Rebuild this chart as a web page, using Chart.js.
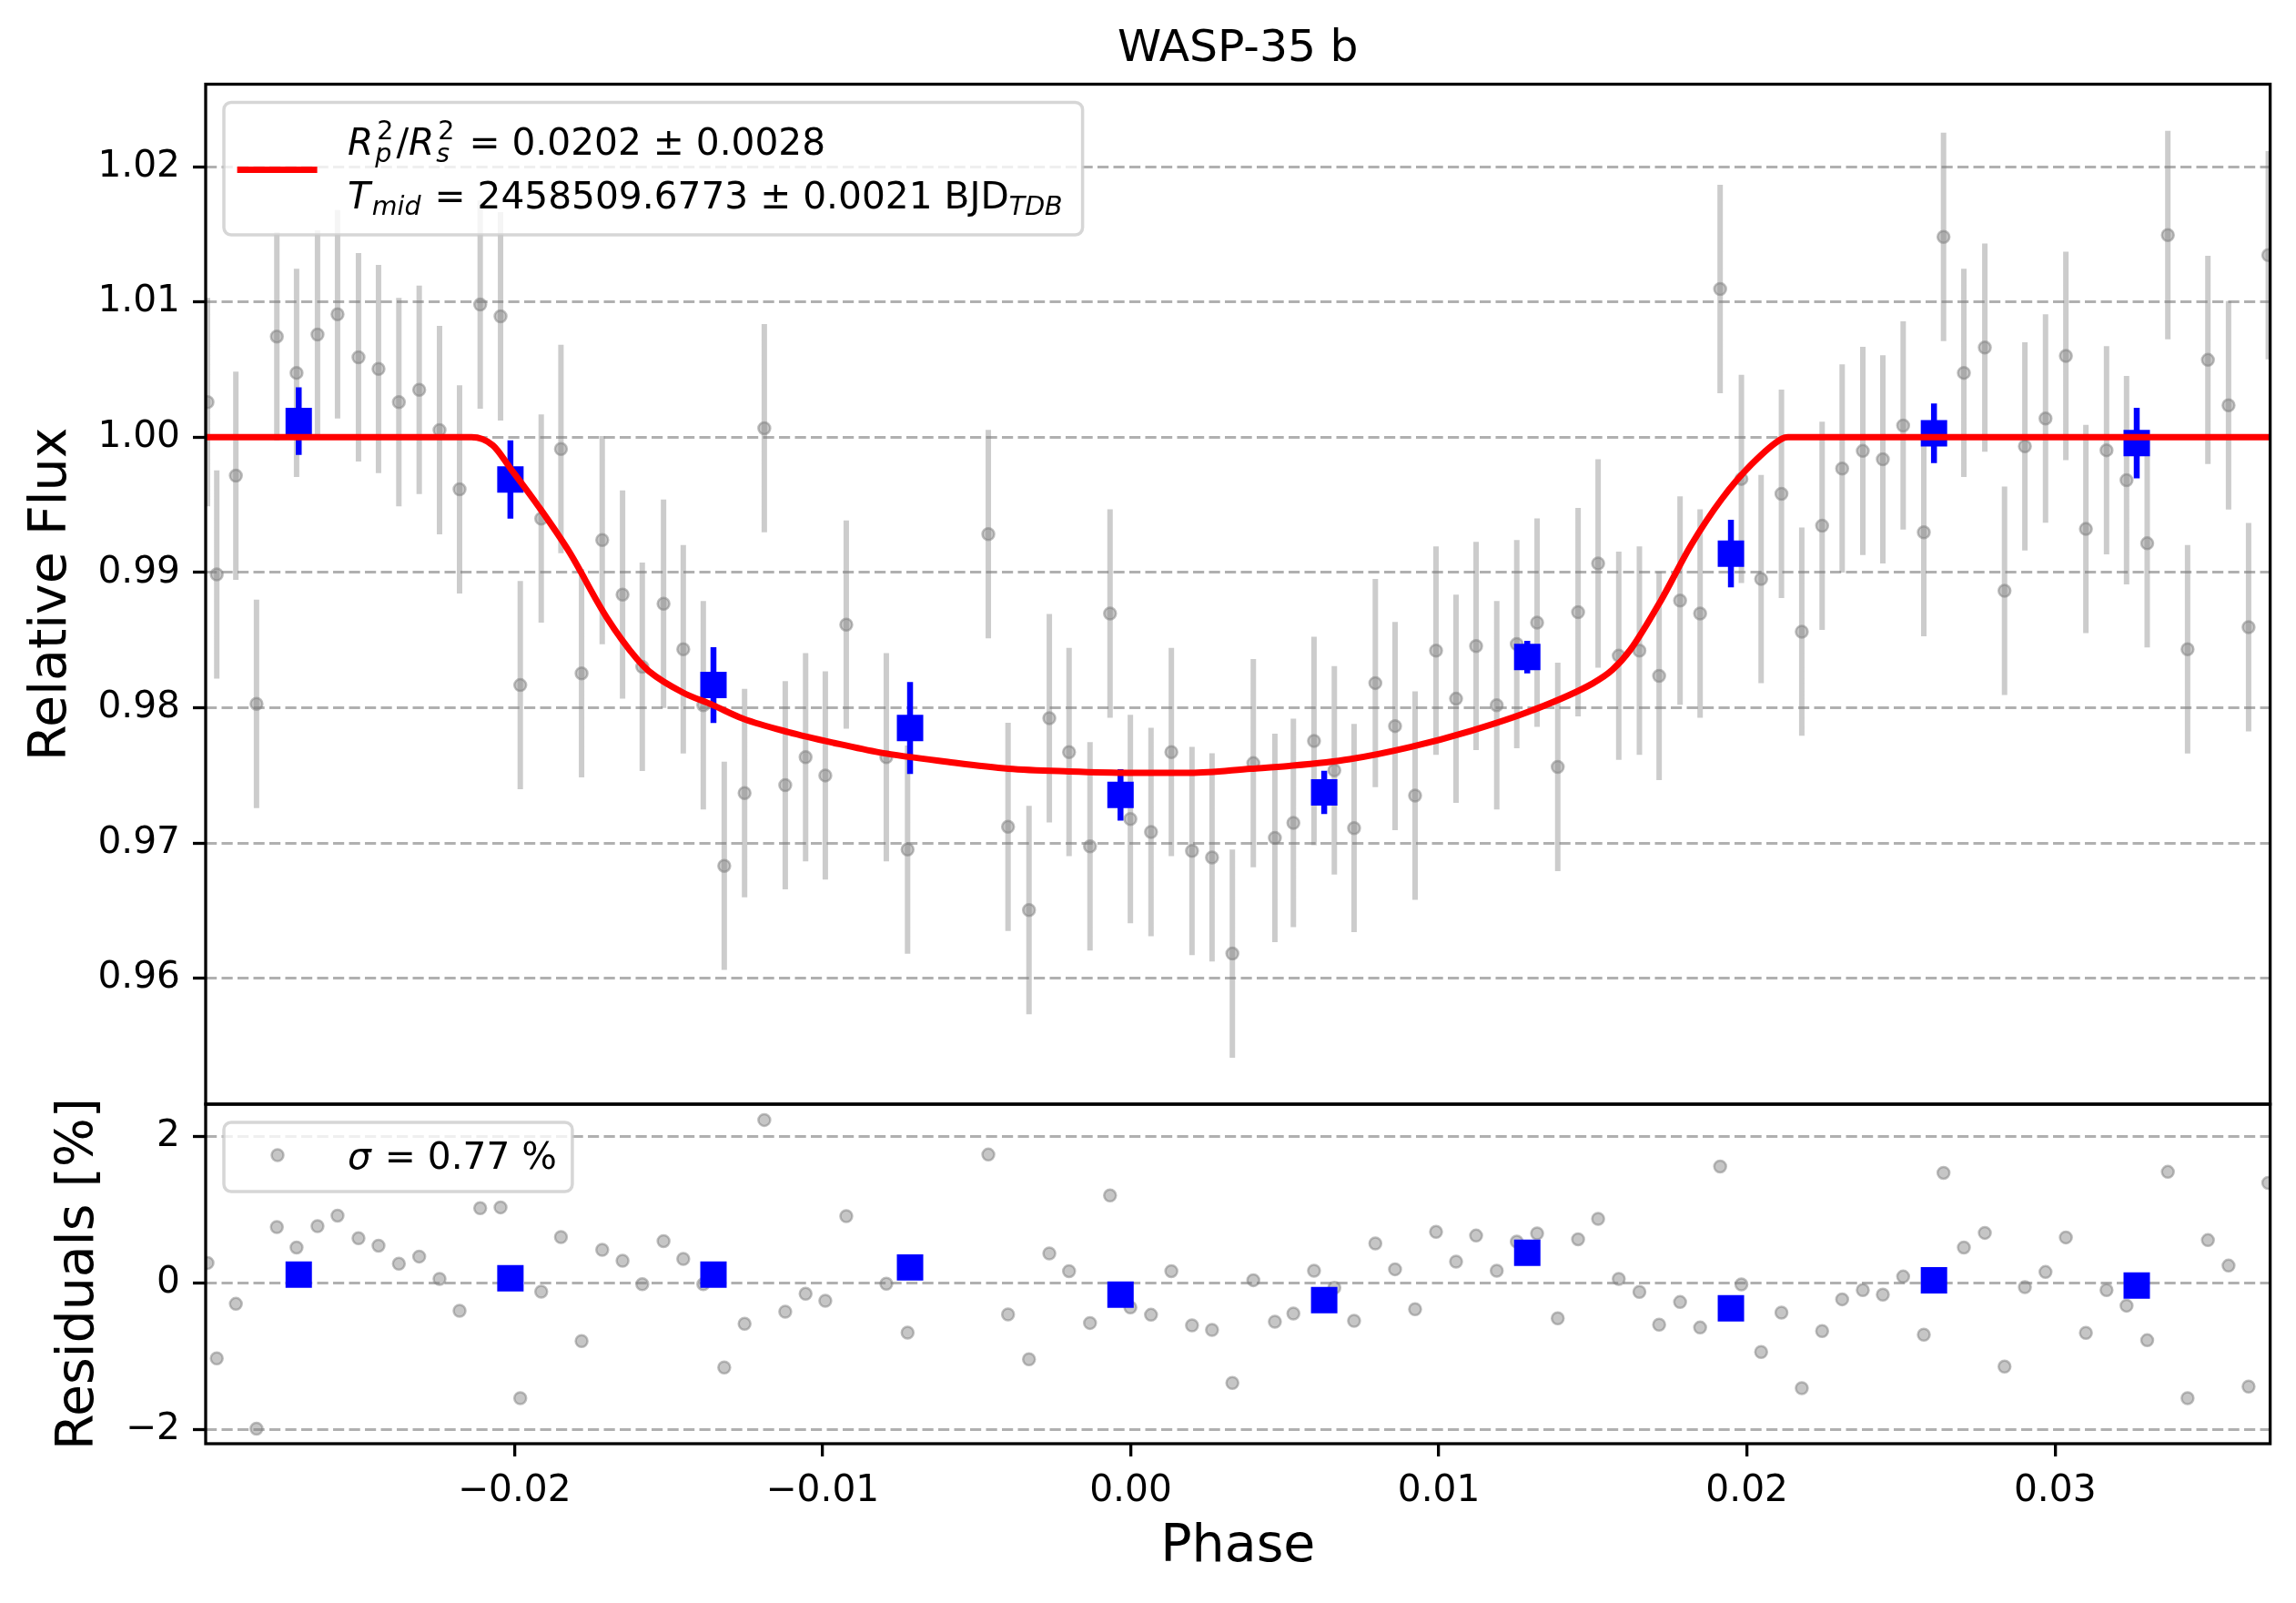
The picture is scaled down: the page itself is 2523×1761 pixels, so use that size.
<!DOCTYPE html>
<html>
<head>
<meta charset="utf-8">
<title>WASP-35 b</title>
<script src="https://cdn.jsdelivr.net/npm/chart.js@4.4.1/dist/chart.umd.min.js"></script>
<style>
  html, body { margin: 0; padding: 0; background: #fff; }
  #wrap { position: relative; width: 2523px; height: 1761px; overflow: hidden; }
  canvas { position: absolute; left: 0; }
  #fluxChart { top: 0; }
  #residChart { top: 1168px; }
</style>
</head>
<body>
<div id="wrap">
  <canvas id="fluxChart" width="2523" height="1260"></canvas>
  <canvas id="residChart" width="2523" height="593"></canvas>
</div>
<script>
const TITLE = "WASP-35 b";

// unbinned light curve (phase, relative flux, residual in %)
const PHASE = [
  -0.02996, -0.02966, -0.02904, -0.02837, -0.02771, -0.02707, -0.02639, -0.02574, -0.02506, -0.02441,
  -0.02375, -0.02309, -0.02243, -0.02178, -0.02111, -0.02045, -0.01981, -0.01913, -0.01849, -0.01782,
  -0.01715, -0.01649, -0.01585, -0.01516, -0.01452, -0.01387, -0.01319, -0.01253, -0.01189, -0.01121,
  -0.01055, -0.00991, -0.00923, -0.00793, -0.00724, -0.00462, -0.00398, -0.00330, -0.00264, -0.00200,
  -0.00132, -0.00067, -0.00001, 0.00066, 0.00132, 0.00199, 0.00264, 0.00330, 0.00398, 0.00468,
  0.00528, 0.00595, 0.00661, 0.00725, 0.00794, 0.00858, 0.00923, 0.00991, 0.01056, 0.01121,
  0.01188, 0.01253, 0.01319, 0.01386, 0.01452, 0.01517, 0.01584, 0.01651, 0.01715, 0.01783,
  0.01848, 0.01913, 0.01982, 0.02046, 0.02112, 0.02178, 0.02244, 0.02309, 0.02376, 0.02441,
  0.02507, 0.02574, 0.02638, 0.02704, 0.02772, 0.02836, 0.02902, 0.02969, 0.03035, 0.03100,
  0.03167, 0.03232, 0.03299, 0.03366, 0.03430, 0.03496, 0.03563, 0.03628, 0.03692
];
const FLUX = [
  1.0026, 0.98986, 0.99716, 0.98029, 1.00745, 1.00476, 1.0076, 1.00909, 1.00591, 1.00505,
  1.0026, 1.00351, 1.00053, 0.99615, 1.00981, 1.00894, 0.98168, 0.99399, 0.99913, 0.98255,
  0.9924, 0.98837, 0.98303, 0.98769, 0.98433, 0.98019, 0.96832, 0.9737, 1.00067, 0.97428,
  0.97635, 0.975, 0.98615, 0.97635, 0.96952, 0.99284, 0.9712, 0.96505, 0.97923, 0.97673,
  0.96976, 0.98697, 0.97178, 0.97082, 0.97673, 0.96942, 0.96894, 0.96183, 0.97591, 0.97038,
  0.97149, 0.97755, 0.97538, 0.97111, 0.98183, 0.97865, 0.97351, 0.98423, 0.98067, 0.98457,
  0.98019, 0.98471, 0.9863, 0.97563, 0.98707, 0.99067, 0.98385, 0.98423, 0.98236, 0.98793,
  0.98697, 1.01096, 0.99692, 0.98952, 0.99582, 0.98563, 0.99346, 0.99769, 0.99899, 0.99837,
  1.00087, 0.99298, 1.01481, 1.00476, 1.00663, 0.98865, 0.99933, 1.00139, 1.00601, 0.99322,
  0.99904, 0.99683, 0.99216, 1.01495, 0.98433, 1.00572, 1.00236, 0.98596, 1.01346
];
const FLUX_ERR = 0.0077;
const RESID = [
  0.273, -1.031, -0.286, -1.99, 0.762, 0.484, 0.774, 0.919, 0.609, 0.509,
  0.261, 0.36, 0.054, -0.381, 1.019, 1.031, -1.573, -0.12, 0.625, -0.795,
  0.451, 0.302, -0.017, 0.571, 0.327, -0.017, -1.155, -0.559, 2.224, -0.393,
  -0.149, -0.244, 0.911, -0.012, -0.679, 1.752, -0.43, -1.043, 0.402, 0.161,
  -0.547, 1.193, -0.335, -0.435, 0.161, -0.58, -0.642, -1.366, 0.037, -0.53,
  -0.418, 0.166, -0.066, -0.518, 0.538, 0.186, -0.36, 0.696, 0.29, 0.646,
  0.166, 0.563, 0.675, -0.484, 0.596, 0.874, 0.054, -0.124, -0.571, -0.261,
  -0.609, 1.59, -0.021, -0.944, -0.406, -1.437, -0.658, -0.224, -0.099, -0.161,
  0.087, -0.708, 1.503, 0.484, 0.683, -1.143, -0.058, 0.149, 0.621, -0.683,
  -0.099, -0.311, -0.783, 1.516, -1.573, 0.584, 0.236, -1.416, 1.366
];

// binned points
const BIN_PHASE = [-0.02700, -0.02013, -0.01354, -0.00716, -0.00033, 0.00628, 0.01287, 0.01948, 0.02607, 0.03265];
const BIN_FLUX = [1.0012, 0.99688, 0.98168, 0.97851, 0.97356, 0.97375, 0.98375, 0.9914, 1.00029, 0.99957];
const BIN_ERR = [0.0025, 0.0029, 0.0028, 0.0034, 0.0019, 0.0016, 0.0012, 0.0025, 0.0022, 0.0026];
const BIN_RESID = [0.112, 0.062, 0.112, 0.211, -0.161, -0.236, 0.41, -0.348, 0.037, -0.037];

// transit model
const MODEL_PHASE = [
  -0.03002, -0.02139, -0.0207, -0.02013, -0.01922, -0.01824, -0.01701, -0.01602, -0.01563, -0.01455,
  -0.01356, -0.01258, -0.0111, -0.00962, -0.00815, -0.00593, -0.00397, -0.002, -0.00003, 0.00194,
  0.00391, 0.00514, 0.00711, 0.00908, 0.01105, 0.01302, 0.01499, 0.01563, 0.01622, 0.0172,
  0.01818, 0.01917, 0.02015, 0.02114, 0.02133, 0.03698
];
const MODEL_FLUX = [
  1.0, 1.0, 0.9994, 0.9977, 0.9949, 0.9916, 0.9867, 0.9836, 0.9827, 0.98115,
  0.9802, 0.9792, 0.9782, 0.9774, 0.9767, 0.976, 0.9755, 0.9753, 0.9752, 0.9752,
  0.9755, 0.9757, 0.9762, 0.9771, 0.9783, 0.9798, 0.9818, 0.9828, 0.9843, 0.9879,
  0.992, 0.9954, 0.998, 0.9999, 1.0, 1.0
];

const X_TICKS = [-0.02, -0.01, 0.0, 0.01, 0.02, 0.03];
const FLUX_TICKS = [0.96, 0.97, 0.98, 0.99, 1.0, 1.01, 1.02];
const RESID_TICKS = [-2, 0, 2];
const X_MIN = -0.03002, X_MAX = 0.03698;
const Y_MIN = 0.9507, Y_MAX = 1.0261;
const R_MIN = -2.195, R_MAX = 2.44;

const LEGEND_LINE1 = [{t: "R", it: true}, {sup: "2", sub: "p"}, {t: "/"}, {t: "R", it: true}, {sup: "2", sub: "s"}, {t: " = 0.0202 ± 0.0028"}];
const LEGEND_LINE2 = [{t: "T", it: true}, {t: "mid", it: true, low: true}, {t: " = 2458509.6773 ± 0.0021 BJD"}, {t: "TDB", it: true, low: true}];
const RESID_LEGEND = [{t: "σ", it: true}, {t: " = 0.77 %"}];

const FONT = '"DejaVu Sans", sans-serif';
const TICK_PX = 40.7, LABEL_PX = 57, TITLE_PX = 48.8;
const AXIS_LEFT = 226;
const GRAY_FILL = "rgba(128,128,128,0.45)";
const GRAY_EDGE = "rgba(128,128,128,0.5)";
const GRAY_BAR = "rgba(128,128,128,0.4)";

Chart.defaults.font.family = FONT;
Chart.defaults.color = "#000";

const pts = (xs, ys) => xs.map((x, i) => ({x, y: ys[i]}));
const errorSegments = (xs, ys, err) => xs.flatMap((x, i) => {
  const e = Array.isArray(err) ? err[i] : err;
  return [{x, y: ys[i] - e}, {x, y: ys[i] + e}, {x, y: null}];
});
const fmt = (v, d) => (v < 0 ? "\u2212" : "") + Math.abs(v).toFixed(d);

function roundRect(ctx, x, y, w, h, r) {
  ctx.beginPath();
  ctx.moveTo(x + r, y);
  ctx.arcTo(x + w, y, x + w, y + h, r);
  ctx.arcTo(x + w, y + h, x, y + h, r);
  ctx.arcTo(x, y + h, x, y, r);
  ctx.arcTo(x, y, x + w, y, r);
  ctx.closePath();
}

function legendBox(ctx, x, y, w, h) {
  roundRect(ctx, x, y, w, h, 8);
  ctx.fillStyle = "rgba(255,255,255,0.8)";
  ctx.fill();
  ctx.lineWidth = 3.5;
  ctx.strokeStyle = "rgba(204,204,204,0.8)";
  ctx.stroke();
}

// draws text runs with italics, sub- and superscripts; returns the width
function drawMath(ctx, x, y, runs, size, dry) {
  const small = size * 0.7;
  let cx = x;
  runs.forEach((r) => {
    if (r.sup !== undefined) {
      ctx.font = `${small}px ${FONT}`;
      const w1 = ctx.measureText(r.sup).width;
      if (!dry) ctx.fillText(r.sup, cx + 2, y - size * 0.42);
      ctx.font = `italic ${small}px ${FONT}`;
      const w2 = ctx.measureText(r.sub).width;
      if (!dry) ctx.fillText(r.sub, cx, y + size * 0.2);
      cx += Math.max(w1 + 2, w2) + 3;
    } else {
      const s = r.low ? small : size;
      ctx.font = `${r.it ? "italic " : ""}${s}px ${FONT}`;
      if (!dry) ctx.fillText(r.t, cx, y + (r.low ? size * 0.17 : 0));
      cx += ctx.measureText(r.t).width + (r.it ? 2 : 0);
    }
  });
  return cx - x;
}

const frame = {
  id: "frame",
  afterDatasetsDraw(chart) {
    const {ctx, chartArea: ca} = chart;
    ctx.save();
    ctx.strokeStyle = "#000";
    ctx.lineWidth = 3.3;
    ctx.strokeRect(ca.left, ca.top, ca.right - ca.left, ca.bottom - ca.top);
    ctx.restore();
  },
};

const fluxDecor = {
  id: "fluxDecor",
  afterDraw(chart) {
    const {ctx, chartArea: ca} = chart;
    ctx.save();
    ctx.fillStyle = "#000";
    ctx.font = `${TITLE_PX}px ${FONT}`;
    ctx.textAlign = "center";
    ctx.textBaseline = "middle";
    ctx.fillText(TITLE, (ca.left + ca.right) / 2, ca.top - 38);

    ctx.textAlign = "left";
    ctx.textBaseline = "alphabetic";
    const bx = ca.left + 20, by = ca.top + 20;
    const tw = Math.max(
      drawMath(ctx, 0, 0, LEGEND_LINE1, TICK_PX, true),
      drawMath(ctx, 0, 0, LEGEND_LINE2, TICK_PX, true)
    );
    legendBox(ctx, bx, by, 136 + tw + 20, 145.5);
    ctx.strokeStyle = "#ff0000";
    ctx.lineWidth = 7;
    ctx.beginPath();
    ctx.moveTo(bx + 14.6, by + 73.9);
    ctx.lineTo(bx + 102.6, by + 73.9);
    ctx.stroke();
    ctx.fillStyle = "#000";
    drawMath(ctx, bx + 136, by + 57.5, LEGEND_LINE1, TICK_PX);
    drawMath(ctx, bx + 136, by + 116.5, LEGEND_LINE2, TICK_PX);
    ctx.restore();
  },
};

const residDecor = {
  id: "residDecor",
  afterDraw(chart) {
    const {ctx, chartArea: ca} = chart;
    ctx.save();
    ctx.textAlign = "left";
    ctx.textBaseline = "alphabetic";
    const bx = ca.left + 20, by = ca.top + 20;
    const tw = drawMath(ctx, 0, 0, RESID_LEGEND, TICK_PX, true);
    legendBox(ctx, bx, by, 136 + tw + 17, 76);
    ctx.beginPath();
    ctx.arc(bx + 59, by + 36, 6.5, 0, Math.PI * 2);
    ctx.fillStyle = GRAY_FILL;
    ctx.fill();
    ctx.lineWidth = 2.5;
    ctx.strokeStyle = GRAY_EDGE;
    ctx.stroke();
    ctx.fillStyle = "#000";
    drawMath(ctx, bx + 136, by + 50.7, RESID_LEGEND, TICK_PX);
    ctx.restore();
  },
};

const yAxis = (min, max, ticks, decimals, title, titlePad) => ({
  min, max,
  afterBuildTicks: (s) => { s.ticks = ticks.map((v) => ({value: v})); },
  afterFit: (s) => { s.width = AXIS_LEFT; },
  ticks: { font: {size: TICK_PX}, color: "#000", padding: 14, callback: (v) => fmt(v, decimals) },
  grid: { color: "#b0b0b0", lineWidth: 3, tickColor: "#000", tickWidth: 3.3, tickLength: 14 },
  border: { display: false, dash: [12.2, 5.3] },
  title: { display: true, text: title, color: "#000", font: {size: LABEL_PX}, padding: {top: titlePad, bottom: 0} },
});

const baseOptions = {
  responsive: false,
  animation: false,
  events: [],
  plugins: { legend: {display: false}, tooltip: {enabled: false} },
};

// the two canvases overlap by 45 px so tick-label overflow never squeezes the plot areas
new Chart(document.getElementById("fluxChart"), {
  type: "scatter",
  data: {
    datasets: [
      { type: "line", label: "model", data: pts(MODEL_PHASE, MODEL_FLUX), borderColor: "#ff0000",
        borderWidth: 7, pointRadius: 0, cubicInterpolationMode: "monotone", clip: 0, order: 0 },
      { label: "binned", data: pts(BIN_PHASE, BIN_FLUX), pointStyle: "rect", pointRadius: 20.5,
        backgroundColor: "#0000ff", borderColor: "#0000ff", borderWidth: 0, clip: 0, order: 1 },
      { type: "line", label: "binned err", data: errorSegments(BIN_PHASE, BIN_FLUX, BIN_ERR),
        borderColor: "#0000ff", borderWidth: 6.5, pointRadius: 0, clip: 0, order: 2 },
      { label: "data", data: pts(PHASE, FLUX), pointRadius: 6.5, backgroundColor: GRAY_FILL,
        borderColor: GRAY_EDGE, borderWidth: 2.5, clip: 0, order: 3 },
      { type: "line", label: "data err", data: errorSegments(PHASE, FLUX, FLUX_ERR),
        borderColor: GRAY_BAR, borderWidth: 6, pointRadius: 0, clip: 0, order: 4 },
    ],
  },
  options: {
    ...baseOptions,
    layout: { padding: {top: 92.5, right: 28.4, bottom: 47, left: 0} },
    scales: {
      x: { type: "linear", min: X_MIN, max: X_MAX, display: false },
      y: yAxis(Y_MIN, Y_MAX, FLUX_TICKS, 2, "Relative Flux", 22.8),
    },
  },
  plugins: [frame, fluxDecor],
});

new Chart(document.getElementById("residChart"), {
  type: "scatter",
  data: {
    datasets: [
      { label: "binned", data: pts(BIN_PHASE, BIN_RESID), pointStyle: "rect", pointRadius: 20.5,
        backgroundColor: "#0000ff", borderColor: "#0000ff", borderWidth: 0, clip: 0, order: 0 },
      { label: "residuals", data: pts(PHASE, RESID), pointRadius: 6.5, backgroundColor: GRAY_FILL,
        borderColor: GRAY_EDGE, borderWidth: 2.5, clip: 0, order: 1 },
    ],
  },
  options: {
    ...baseOptions,
    layout: { padding: {top: 45, right: 28.4, bottom: 0, left: 0} },
    scales: {
      x: {
        type: "linear", min: X_MIN, max: X_MAX,
        afterBuildTicks: (s) => { s.ticks = X_TICKS.map((v) => ({value: v})); },
        afterFit: (s) => { s.height = 175; },
        ticks: { font: {size: TICK_PX}, color: "#000", padding: 14, maxRotation: 0, callback: (v) => fmt(v, 2) },
        grid: { drawOnChartArea: false, tickColor: "#000", tickWidth: 3.3, tickLength: 14, lineWidth: 3.3 },
        border: { display: false },
        title: { display: true, text: "Phase", color: "#000", font: {size: LABEL_PX}, padding: {top: 0, bottom: 26.8} },
      },
      y: yAxis(R_MIN, R_MAX, RESID_TICKS, 0, "Residuals [%]", 52.8),
    },
  },
  plugins: [frame, residDecor],
});
</script>
</body>
</html>
